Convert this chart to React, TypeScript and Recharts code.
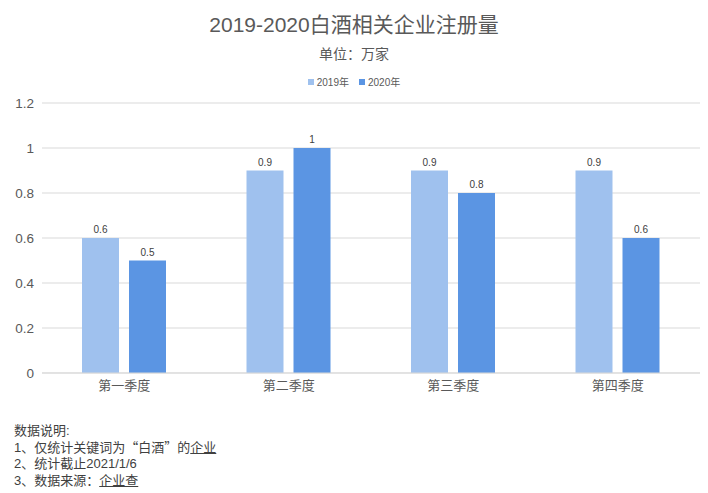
import React from 'react';
import {
  BarChart,
  Bar,
  XAxis,
  YAxis,
  CartesianGrid,
  LabelList,
} from 'recharts';

const quarters = ['第一季度', '第二季度', '第三季度', '第四季度'];
const values2019 = [0.6, 0.9, 0.9, 0.9];
const values2020 = [0.5, 1, 0.8, 0.6];
const yTicks = [0, 0.2, 0.4, 0.6, 0.8, 1, 1.2];

const seriesNames = ['2019年', '2020年'];
const seriesColors = ['#9fc1ee', '#5b95e3'];

const FONT = '"Liberation Sans", "Noto Sans CJK SC", sans-serif';
const CJK = '"Noto Sans CJK SC", sans-serif';

export default function App() {
  const data = quarters.map((q, i) => ({
    name: q,
    y2019: values2019[i],
    y2020: values2020[i],
  }));

  return (
    <div
      style={{
        position: 'absolute',
        left: 0,
        top: 0,
        width: 708,
        height: 493,
        background: '#fff',
        fontFamily: FONT,
      }}
    >
      {/* titles */}
      <div
        style={{
          position: 'absolute',
          top: 8,
          width: 708,
          textAlign: 'center',
          fontSize: 21,
          color: '#595959',
        }}
      >
        2019-2020白酒相关企业注册量
      </div>
      <div
        style={{
          position: 'absolute',
          top: 43,
          width: 708,
          textAlign: 'center',
          fontSize: 14,
          color: '#595959',
        }}
      >
        单位：万家
      </div>

      {/* legend */}
      <div
        style={{
          position: 'absolute',
          top: 74,
          width: 708,
          display: 'flex',
          justifyContent: 'center',
          gap: 10,
          fontSize: 10,
          color: '#595959',
        }}
      >
        {seriesNames.map((n, i) => (
          <div key={n} style={{ display: 'flex', alignItems: 'center' }}>
            <span
              style={{
                width: 6,
                height: 6,
                background: seriesColors[i],
                marginRight: 3,
                display: 'inline-block',
              }}
            />
            {n}
          </div>
        ))}
      </div>

      <BarChart
        width={708}
        height={493}
        data={data}
        margin={{ top: 103, right: 8, bottom: 90, left: 0 }}
        barGap={10}
        barCategoryGap={40}
        style={{ fontFamily: FONT }}
      >
        <CartesianGrid vertical={false} stroke="#d9d9d9" />
        <XAxis
          dataKey="name"
          axisLine={{ stroke: '#d9d9d9' }}
          tickLine={false}
          tick={{ fill: '#595959', fontSize: 13 }}
          height={30}
        />
        <YAxis
          domain={[0, 1.2]}
          ticks={yTicks}
          axisLine={false}
          tickLine={false}
          width={42}
          tick={{ fill: '#595959', fontSize: 13.5 }}
          tickFormatter={(v) => String(Math.round(v * 10) / 10)}
        />
        <Bar dataKey="y2019" name={seriesNames[0]} fill={seriesColors[0]} isAnimationActive={false}>
          <LabelList dataKey="y2019" position="top" fill="#404040" fontSize={10} />
        </Bar>
        <Bar dataKey="y2020" name={seriesNames[1]} fill={seriesColors[1]} isAnimationActive={false}>
          <LabelList dataKey="y2020" position="top" fill="#404040" fontSize={10} />
        </Bar>
      </BarChart>

      {/* notes */}
      <div
        style={{
          position: 'absolute',
          left: 14,
          top: 423,
          fontSize: 13,
          lineHeight: '16px',
          color: '#404040',
        }}
      >
        <div>数据说明:</div>
        <div>
          1、仅统计关键词为<span style={{ fontFamily: CJK }}>“白酒”</span>的
          <span style={{ textDecoration: 'underline' }}>企业</span>
        </div>
        <div>2、统计截止2021/1/6</div>
        <div>
          3、数据来源<span style={{ fontFamily: CJK }}>：</span>
          <span style={{ textDecoration: 'underline' }}>企业查</span>
        </div>
      </div>
    </div>
  );
}
